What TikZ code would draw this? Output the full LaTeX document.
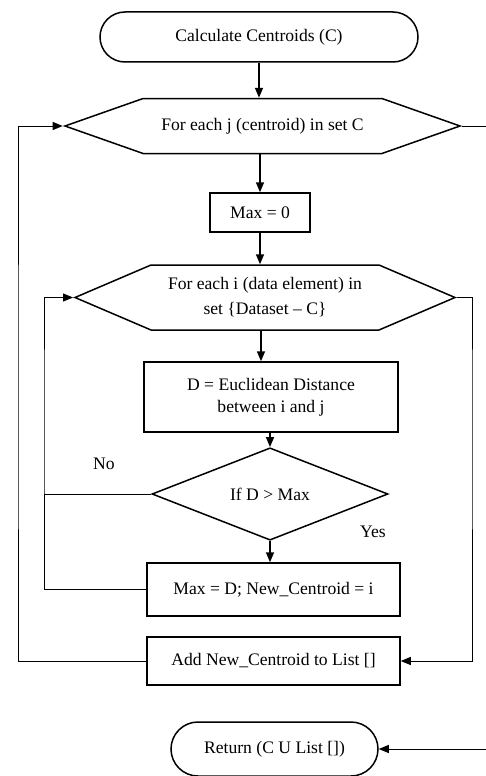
\documentclass[tikz,border=0pt]{standalone}
\usepackage{fontspec}
\setmainfont{Liberation Serif}
\usetikzlibrary{arrows.meta,shapes.geometric,shapes.misc,shapes.symbols}

\tikzset{
  base/.style={draw, line width=1.5pt, inner sep=0pt, align=center,
    font=\fontsize{17.6}{22}\selectfont},
  term/.style={base, rounded rectangle},
  proc/.style={base, rectangle},
  loopbox/.style={base, signal, signal to=west and east},
  decide/.style={base, diamond},
  arr/.style={line width=1.5pt, -{Triangle[length=10pt,width=8pt]}},
  back/.style={line width=1pt},
  backarr/.style={back, -{Triangle[length=10pt,width=8pt]}},
  lbl/.style={font=\fontsize{17.6}{22}\selectfont}
}

\begin{document}
\begin{tikzpicture}[x=1pt,y=-1pt]
	%%%%% START %%%%%
	\useasboundingbox (0,0) rectangle (486,776);
	
	\node[term, minimum width=318, minimum height=50] (start) at (259,37) {Calculate Centroids (C)};
	\node[loopbox, minimum width=395, minimum height=55, signal pointer angle=38.8] (hexj) at (262.5,126) {For each j (centroid) in set C};
	\node[proc, minimum width=100, minimum height=39] (maxz) at (260,212.5) {Max = 0};
	\node[loopbox, minimum width=380, minimum height=65, signal pointer angle=46.3,
		font=\fontsize{17.6}{25}\selectfont] (hexi) at (265,297.5) {For each i (data element) in\\ set \{Dataset -- C\}};
	\node[proc, minimum width=254, minimum height=70] (dist) at (271,397) {D = Euclidean Distance\\ between i and j};
	\node[decide, minimum width=236, minimum height=72] (dec) at (270,494) {If D > Max};
	\node[proc, minimum width=253, minimum height=53] (maxd) at (273.5,589.5) {Max = D; New\_Centroid = i};
	\node[proc, minimum width=253, minimum height=48] (add) at (273.5,661) {Add New\_Centroid to List []};
	\node[term, minimum width=207, minimum height=54] (ret) at (274.5,749) {Return (C U List [])};
	
	\node[lbl] (no) at (104,464) {No};
	\node[lbl] (yes) at (373,532) {Yes};
	
	% main flow
	\draw[arr] (start.south) -- (start.south |- hexj.north);
	\draw[arr] (maxz.north |- hexj.south) -- (maxz.north);
	\draw[arr] (maxz.south) -- (maxz.south |- hexi.north);
	\draw[arr] (hexi.south -| 261,0) -- (dist.north -| 261,0);
	\draw[arr] (dist.south -| dec.north) -- (dec.north);
	\draw[arr] (dec.south) -- (dec.south |- maxd.north);
	
	% loops
	\coordinate (lj) at (18,400);
	\coordinate (li) at (44,400);
	\coordinate (ri) at (472,400);
	\coordinate (ro) at (496,400);
	\draw[backarr] (add.west) -| (lj) |- (hexj.west);
	\draw[backarr] (maxd.west) -| (li) |- (hexi.west);
	\draw[back] (dec.west) -- (dec.west -| li);
	\draw[backarr] (hexi.east) -| (ri) |- (add.east);
	\draw[backarr] (hexj.east) -| (ro) |- (ret.east);
	
	%%%%% END %%%%%
\end{tikzpicture}
\end{document}
